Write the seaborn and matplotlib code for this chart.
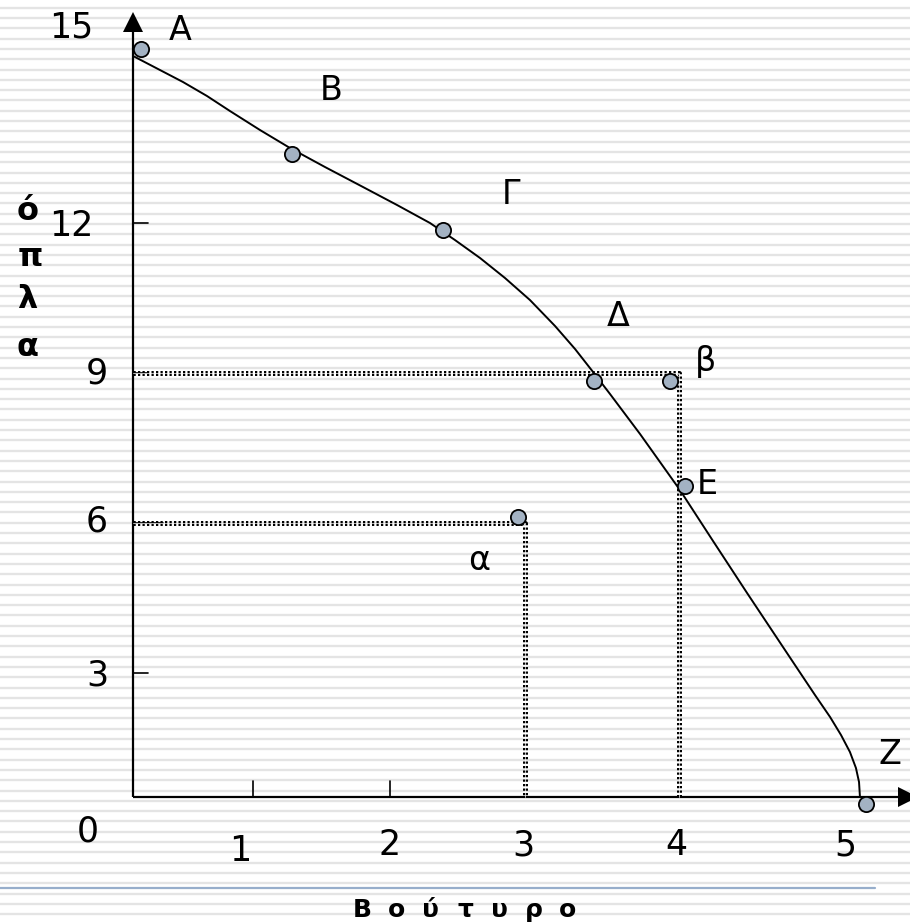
import numpy as np
import matplotlib
matplotlib.use("Agg")
import matplotlib.pyplot as plt
import seaborn as sns

# ---------------- data ----------------
curve_x = [0.455, 0.617, 0.779, 0.935, 1.084, 1.279, 1.474, 1.701, 1.948, 2.169,
           2.383, 2.545, 2.708, 2.870, 3.032, 3.195, 3.325, 3.442, 3.552, 3.747,
           4.006, 4.221, 4.442, 4.740, 4.883, 4.981, 5.052, 5.110, 5.149, 5.169, 5.175]
curve_y = [15.34, 15.08, 14.82, 14.54, 14.24, 13.86, 13.50, 13.12, 12.72, 12.36,
           12.00, 11.66, 11.30, 10.90, 10.46, 9.94, 9.48, 9.02, 8.58, 7.78,
           6.66, 5.64, 4.60, 3.22, 2.56, 2.12, 1.76, 1.42, 1.10, 0.82, 0.52]

point_names = ["A", "B", "Γ", "Δ", "E", "Z"]
point_x = [0.505, 1.487, 2.466, 3.448, 4.039, 5.214]
point_y = [15.49, 13.38, 11.87, 8.85, 6.74, 0.38]

inside_name, inside_x, inside_y = "α", 2.955, 6.12
outside_name, outside_x, outside_y = "β", 3.942, 8.85

guide_a = (3.0, 6.0)   # dotted guide to α
guide_b = (4.0, 9.0)   # dotted guide to β

y_tick_values = [15, 12, 9, 6, 3, 0]
x_tick_values = [1, 2, 3, 4, 5]
y_title = ["ό", "π", "λ", "α"]
x_title = "Βούτυρο"

# ---------------- layout (pixels) ----------------
W, H = 910, 924
X0_PX, X_SCALE = 63.0, 154.0
Y0_PX, Y_SCALE = 823.0, 50.0
AXIS_X, AXIS_Y = (133.3 - X0_PX) / X_SCALE, (Y0_PX - 797.0) / Y_SCALE

def dx(px):
    return (px - X0_PX) / X_SCALE

def dy(py):
    return (Y0_PX - py) / Y_SCALE

ytick_pos = {15: (71, 28), 12: (71, 226), 9: (97, 374), 6: (97, 522), 3: (97, 676), 0: (88, 831)}
xtick_pos = {1: (240, 851), 2: (390, 845), 3: (523, 845), 4: (676, 845), 5: (845, 845)}
name_pos = {"A": (180, 31), "B": (331, 91), "Γ": (511, 195), "Δ": (618, 316),
            "E": (707, 484), "Z": (890, 755), "α": (479, 561), "β": (706, 362)}
ytitle_pos = [(28, 212), (30, 257), (27, 299), (28, 347)]
xtitle_first, xtitle_last, xtitle_top = 362, 568, 898

sns.set_style("white")
plt.rcParams["font.family"] = ["DejaVu Sans"]
plt.rcParams["text.color"] = "black"

fig = plt.figure(figsize=(W / 100, H / 100), dpi=100)
fig.patch.set_facecolor("white")

# background with horizontal stripes (pixel coordinates)
bg = fig.add_axes([0, 0, 1, 1])
bg.set_xlim(0, W)
bg.set_ylim(H, 0)
bg.axis("off")
stripes = np.arange(7.7, H, 10.3)
bg.hlines(stripes, 0, W, color="#e4e4e4", lw=1.7, zorder=0)
bg.plot([0, 875], [888, 888], color="#97aecb", lw=1.6, zorder=1)

# main drawing (data coordinates)
ax = fig.add_axes([0, 0, 1, 1])
ax.patch.set_alpha(0)
ax.set_xlim(dx(0), dx(W))
ax.set_ylim(dy(H), dy(0))
ax.axis("off")

# axes with arrows
ax.plot([AXIS_X, AXIS_X], [AXIS_Y, dy(30)], color="black", lw=1.6, solid_capstyle="butt")
ax.plot([AXIS_X, dx(900)], [AXIS_Y, AXIS_Y], color="black", lw=1.6, solid_capstyle="butt")
ax.plot([AXIS_X], [dy(22)], marker="^", ms=14.5, color="black", mew=0)
ax.plot([dx(908)], [AXIS_Y], marker=">", ms=14.5, color="black", mew=0)

# tick marks
for v, ln in [(12, 15), (9, 15), (6, 30), (3, 15)]:
    ax.plot([AXIS_X, AXIS_X + ln / X_SCALE], [v, v], color="black", lw=1.2)
for px in [253, 390]:
    ax.plot([dx(px), dx(px)], [AXIS_Y, AXIS_Y + 16 / Y_SCALE], color="black", lw=1.2)

# dotted guides (double row of dots)
def dotted(xs, ys):
    ax.plot(xs, ys, color="black", lw=3.6, linestyle=(0, (0.45, 0.45)), zorder=3)
    ax.plot(xs, ys, color="white", lw=0.5, zorder=3.1)

for gx, gy in [guide_a, guide_b]:
    dotted([AXIS_X, gx, gx], [gy, gy, AXIS_Y])

# curve
sns.lineplot(x=curve_x, y=curve_y, sort=False, color="black", lw=1.4, ax=ax, zorder=4)

# points
all_x = point_x + [inside_x, outside_x]
all_y = point_y + [inside_y, outside_y]
sns.scatterplot(x=all_x, y=all_y, s=120, color="#a3b2c3", edgecolor="black",
                linewidth=1.3, ax=ax, zorder=5)

# texts (pixel positions)
for v in y_tick_values:
    x, y = ytick_pos[v]
    fig.text(x / W, 1 - y / H, str(v), fontsize=25, ha="center", va="center", color="black")
for v in x_tick_values:
    x, y = xtick_pos[v]
    fig.text(x / W, 1 - y / H, str(v), fontsize=25, ha="center", va="center", color="black")
for name in point_names + [inside_name, outside_name]:
    x, y = name_pos[name]
    fig.text(x / W, 1 - y / H, name, fontsize=24, ha="center", va="center", color="black")
for ch, (x, y) in zip(y_title, ytitle_pos):
    fig.text(x / W, 1 - y / H, ch, fontsize=23, fontweight="bold", ha="center",
             va="center", color="black")
xs_title = np.linspace(xtitle_first, xtitle_last, len(x_title))
for ch, x in zip(x_title, xs_title):
    fig.text(x / W, 1 - xtitle_top / H, ch, fontsize=18, fontweight="bold",
             ha="center", va="top", color="black")

fig.savefig("out.png", dpi=100)
